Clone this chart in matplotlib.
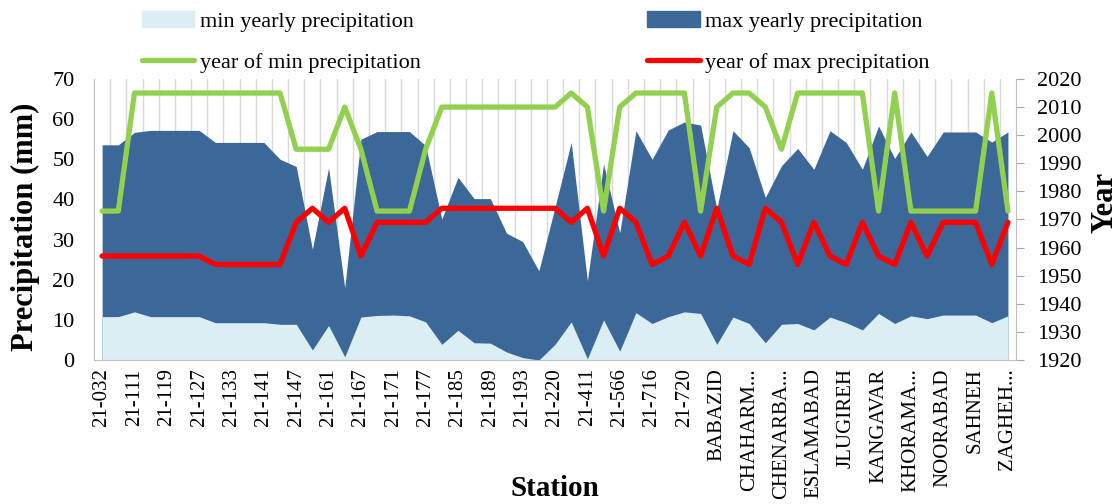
"""
precipitation min/max per station with year of occurrence
"""
import numpy as np
import matplotlib.pyplot as plt
from matplotlib.patches import Patch
from matplotlib.lines import Line2D

plt.rcParams['font.family'] = ['Liberation Serif', 'DejaVu Serif']

# data (57 stations, only every other name is shown on the axis)
station_labels = ['21-032', '21-111', '21-119', '21-127', '21-133', '21-141', '21-147', '21-161',
                  '21-167', '21-171', '21-177', '21-185', '21-189', '21-193', '21-220', '21-411',
                  '21-566', '21-716', '21-720', 'BABAZID', 'CHAHARM...', 'CHENARBA...', 'ESLAMABAD',
                  'JLUGIREH', 'KANGAVAR', 'KHORAMA...', 'NOORABAD', 'SAHNEH', 'ZAGHEH...']

max_precip = [53.6, 53.6, 56.7, 57.2, 57.2, 57.2, 57.2, 54.2, 54.2, 54.2,
              54.2, 50.0, 48.2, 27.6, 47.9, 18.0, 55.0, 56.9, 56.9, 56.9,
              53.4, 35.1, 45.5, 40.2, 40.2, 31.6, 29.5, 22.2, 38.1, 54.2,
              19.7, 48.8, 31.7, 57.1, 50.0, 57.3, 59.3, 58.5, 37.6, 57.1,
              52.9, 40.5, 48.4, 52.7, 47.5, 57.1, 54.2, 47.5, 58.3, 50.2,
              56.8, 50.7, 56.8, 56.8, 56.8, 54.3, 56.8]

min_precip = [10.8, 10.8, 12.0, 10.8, 10.8, 10.8, 10.8, 9.3, 9.3, 9.3,
              9.3, 8.9, 8.9, 2.5, 8.6, 0.8, 10.7, 11.1, 11.2, 11.0,
              9.5, 3.9, 7.4, 4.3, 4.2, 2.0, 0.6, 0.0, 3.9, 9.5,
              0.3, 10.0, 2.2, 11.8, 9.1, 10.8, 12.0, 11.6, 3.9, 10.7,
              9.1, 4.3, 8.9, 9.1, 7.5, 10.7, 9.3, 7.5, 11.6, 9.1,
              11.0, 10.3, 11.2, 11.2, 11.2, 9.3, 11.0]

year_min = [1973, 1973, 2015, 2015, 2015, 2015, 2015, 2015, 2015, 2015,
            2015, 2015, 1995, 1995, 1995, 2010, 1995, 1973, 1973, 1973,
            1995, 2010, 2010, 2010, 2010, 2010, 2010, 2010, 2010, 2015,
            2010, 1973, 2010, 2015, 2015, 2015, 2015, 1973, 2010, 2015,
            2015, 2010, 1995, 2015, 2015, 2015, 2015, 2015, 1973, 2015,
            1973, 1973, 1973, 1973, 1973, 2015, 1973]

year_max = [1957, 1957, 1957, 1957, 1957, 1957, 1957, 1954, 1954, 1954,
            1954, 1954, 1969, 1974, 1969, 1974, 1957, 1969, 1969, 1969,
            1969, 1974, 1974, 1974, 1974, 1974, 1974, 1974, 1974, 1969,
            1974, 1957, 1974, 1969, 1954, 1957, 1969, 1957, 1974, 1957,
            1954, 1974, 1969, 1954, 1969, 1957, 1954, 1969, 1957, 1954,
            1969, 1957, 1969, 1969, 1969, 1954, 1969]

c_min = '#DAEEF3'
c_max = '#3B6799'
c_green = '#92D050'
c_red = '#FF0000'

x = np.arange(len(max_precip))

fig = plt.figure(figsize=(11.18, 5.04), dpi=100)
ax = fig.add_axes([0.0841, 0.2857, 0.8247, 0.5576])

# vertical grid between categories
for g in np.arange(0.5, len(x) - 1, 1.0):
    ax.axvline(g, color='#D9D9D9', lw=1, zorder=0)

ax.fill_between(x, 0, max_precip, color=c_max, lw=0, zorder=1)
ax.fill_between(x, 0, min_precip, color=c_min, lw=0, zorder=2)

ax.set_xlim(-0.5, len(x) - 0.5)
ax.set_ylim(0, 70)
ax.set_yticks(np.arange(0, 71, 10))
ax.set_xticks(x[::2])
ax.set_xticklabels(station_labels, rotation=90, va='top', ha='center')
ax.tick_params(axis='x', length=0, labelsize=15, pad=6)
ax.tick_params(axis='y', length=0, labelsize=16, pad=14)
for s in ['top', 'right']:
    ax.spines[s].set_visible(False)
for s in ['left', 'bottom']:
    ax.spines[s].set_color('#BFBFBF')

ax2 = ax.twinx()
ax2.plot(x, year_min, color=c_green, lw=3.8, solid_capstyle='round', solid_joinstyle='round', zorder=3)
ax2.plot(x, year_max, color=c_red, lw=3.8, solid_capstyle='round', solid_joinstyle='round', zorder=4)
ax2.set_ylim(1920, 2020)
ax2.set_yticks(np.arange(1920, 2021, 10))
ax2.tick_params(axis='y', length=6, direction='out', color='#A6A6A6', labelsize=16, pad=9)
for s in ['top', 'left', 'bottom']:
    ax2.spines[s].set_visible(False)
ax2.spines['right'].set_color('#BFBFBF')

ax.set_ylabel('Precipitation (mm)', fontsize=22, fontweight='bold')
ax.yaxis.set_label_coords(-0.059, 0.473)
ax.set_xlabel('Station', fontsize=21, fontweight='bold')
ax.xaxis.set_label_coords(0.5, -0.41)
ax2.set_ylabel('Year', fontsize=22, fontweight='bold')
ax2.yaxis.set_label_coords(1.081, 0.56)

handles = [Patch(color=c_min), Line2D([], [], color=c_green, lw=3.8, solid_capstyle='round'),
           Patch(color=c_max), Line2D([], [], color=c_red, lw=3.8, solid_capstyle='round')]
labels = ['min yearly precipitation', 'year of min precipitation',
          'max yearly precipitation', 'year of max precipitation']
fig.legend(handles, labels, ncol=2, loc='upper left', bbox_to_anchor=(142 / 1118, 1 - 11 / 504),
           frameon=False, fontsize=16, handlelength=2.35, handletextpad=0.25,
           columnspacing=10.2, labelspacing=0.92, borderpad=0, borderaxespad=0)

fig.savefig('out.png', dpi=100)
